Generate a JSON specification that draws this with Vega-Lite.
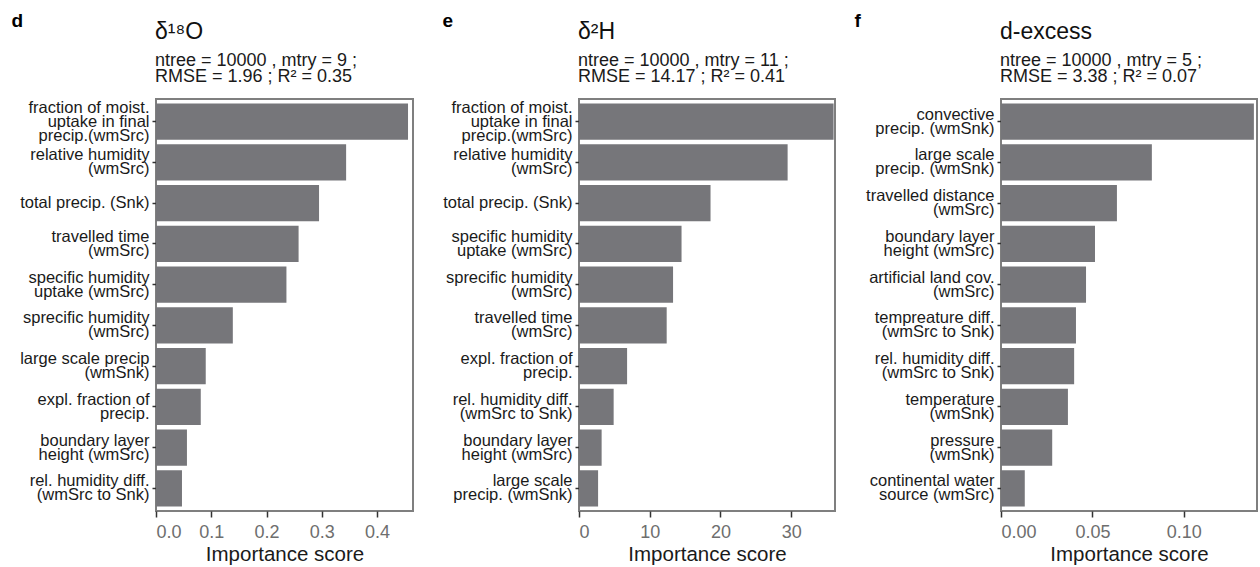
{
  "$schema": "https://vega.github.io/schema/vega-lite/v6.json",
  "padding": {"left": 10, "top": 10, "right": 2, "bottom": 2},
  "background": "white",
  "data": {"values": [
    {"panel": "d", "label": "fraction of moist.|uptake in final|precip.(wmSrc)", "value": 0.456},
    {"panel": "d", "label": "relative humidity|(wmSrc)", "value": 0.344},
    {"panel": "d", "label": "total precip. (Snk)", "value": 0.295},
    {"panel": "d", "label": "travelled time|(wmSrc)", "value": 0.258},
    {"panel": "d", "label": "specific humidity|uptake (wmSrc)", "value": 0.236},
    {"panel": "d", "label": "sprecific humidity|(wmSrc)", "value": 0.139},
    {"panel": "d", "label": "large scale precip|(wmSnk)", "value": 0.090},
    {"panel": "d", "label": "expl. fraction of|precip.", "value": 0.081},
    {"panel": "d", "label": "boundary layer|height (wmSrc)", "value": 0.056},
    {"panel": "d", "label": "rel. humidity diff.|(wmSrc to Snk)", "value": 0.047},
    {"panel": "e", "label": "fraction of moist.|uptake in final|precip.(wmSrc)", "value": 36.0},
    {"panel": "e", "label": "relative humidity|(wmSrc)", "value": 29.5},
    {"panel": "e", "label": "total precip. (Snk)", "value": 18.6},
    {"panel": "e", "label": "specific humidity|uptake (wmSrc)", "value": 14.5},
    {"panel": "e", "label": "sprecific humidity|(wmSrc)", "value": 13.3},
    {"panel": "e", "label": "travelled time|(wmSrc)", "value": 12.4},
    {"panel": "e", "label": "expl. fraction of|precip.", "value": 6.8},
    {"panel": "e", "label": "rel. humidity diff.|(wmSrc to Snk)", "value": 4.9},
    {"panel": "e", "label": "boundary layer|height (wmSrc)", "value": 3.2},
    {"panel": "e", "label": "large scale|precip. (wmSnk)", "value": 2.7},
    {"panel": "f", "label": "convective|precip. (wmSnk)", "value": 0.1383},
    {"panel": "f", "label": "large scale|precip. (wmSnk)", "value": 0.0825},
    {"panel": "f", "label": "travelled distance|(wmSrc)", "value": 0.0634},
    {"panel": "f", "label": "boundary layer|height (wmSrc)", "value": 0.0514},
    {"panel": "f", "label": "artificial land cov.|(wmSrc)", "value": 0.0465},
    {"panel": "f", "label": "tempreature diff.|(wmSrc to Snk)", "value": 0.0410},
    {"panel": "f", "label": "rel. humidity diff.|(wmSrc to Snk)", "value": 0.0400},
    {"panel": "f", "label": "temperature |(wmSnk)", "value": 0.0366},
    {"panel": "f", "label": "pressure|(wmSnk)", "value": 0.0280},
    {"panel": "f", "label": "continental water|source (wmSrc)", "value": 0.0130}
  ]},
  "bounds": "flush",
  "spacing": 166,
  "hconcat": [
    {
      "width": 257, "height": 412,
      "transform": [{"filter": "datum.panel == 'd'"}],
      "title": {"text": "δ¹⁸O", "subtitle": ["ntree = 10000 , mtry = 9 ;", "RMSE = 1.96 ; R² = 0.35"]},
      "mark": {"type": "bar", "color": "#76767a"},
      "encoding": {
        "y": {"field": "label", "type": "nominal", "sort": "-x",
              "scale": {"paddingInner": 0.11, "paddingOuter": 0.11},
              "axis": {"title": "d", "titleX": -145, "titleY": -73}},
        "x": {"field": "value", "type": "quantitative",
              "scale": {"domain": [0, 0.465], "nice": false},
              "axis": {"values": [0, 0.1, 0.2, 0.3, 0.4], "format": ".1f", "title": "Importance score"}}
      }
    },
    {
      "width": 256, "height": 412,
      "transform": [{"filter": "datum.panel == 'e'"}],
      "title": {"text": "δ²H", "subtitle": ["ntree = 10000 , mtry = 11 ;", "RMSE = 14.17 ; R² = 0.41"]},
      "mark": {"type": "bar", "color": "#76767a"},
      "encoding": {
        "y": {"field": "label", "type": "nominal", "sort": "-x",
              "scale": {"paddingInner": 0.11, "paddingOuter": 0.11},
              "axis": {"title": "e", "titleX": -137, "titleY": -73}},
        "x": {"field": "value", "type": "quantitative",
              "scale": {"domain": [0, 36.2], "nice": false},
              "axis": {"values": [0, 10, 20, 30], "format": "d", "title": "Importance score"}}
      }
    },
    {
      "width": 256, "height": 412,
      "transform": [{"filter": "datum.panel == 'f'"}],
      "title": {"text": "d-excess", "subtitle": ["ntree = 10000 , mtry = 5 ;", "RMSE = 3.38 ; R² = 0.07"]},
      "mark": {"type": "bar", "color": "#76767a"},
      "encoding": {
        "y": {"field": "label", "type": "nominal", "sort": "-x",
              "scale": {"paddingInner": 0.11, "paddingOuter": 0.11},
              "axis": {"title": "f", "titleX": -147, "titleY": -73}},
        "x": {"field": "value", "type": "quantitative",
              "scale": {"domain": [0, 0.14], "nice": false},
              "axis": {"values": [0, 0.05, 0.1], "format": ".2f", "title": "Importance score"}}
      }
    }
  ],
  "config": {
    "font": "Liberation Sans",
    "view": {"stroke": "#7f7f7f", "strokeWidth": 2},
    "title": {"anchor": "start", "frame": "group", "dx": -1, "offset": -75,
              "fontSize": 23, "fontWeight": "normal", "color": "#111111",
              "subtitleFontSize": 18, "subtitleColor": "#1a1a1a", "subtitlePadding": 8, "subtitleLineHeight": 16},
    "axisY": {"domain": false, "grid": false, "ticks": true, "tickSize": 4, "tickColor": "#333333", "tickWidth": 1.5,
              "labelFontSize": 16.5, "labelLineHeight": 14, "labelColor": "#1a1a1a", "labelPadding": 3, "labelLimit": 220,
              "labelExpr": "split(datum.label, '|')",
              "labelOffset": {"expr": "-(length(split(datum.value, '|')) - 1) * 7"},
              "titleAngle": 0, "titleAlign": "left", "titleBaseline": "alphabetic",
              "titleFontSize": 19, "titleFontWeight": "bold", "titleColor": "#000000"},
    "axisX": {"domain": false, "grid": false, "tickSize": 6, "tickColor": "#333333", "tickWidth": 1.5,
              "labelFontSize": 18, "labelColor": "#6e6e6e", "labelPadding": 6,
              "titleFontSize": 20.5, "titleFontWeight": "normal", "titleColor": "#1a1a1a", "titlePadding": 3}
  }
}
